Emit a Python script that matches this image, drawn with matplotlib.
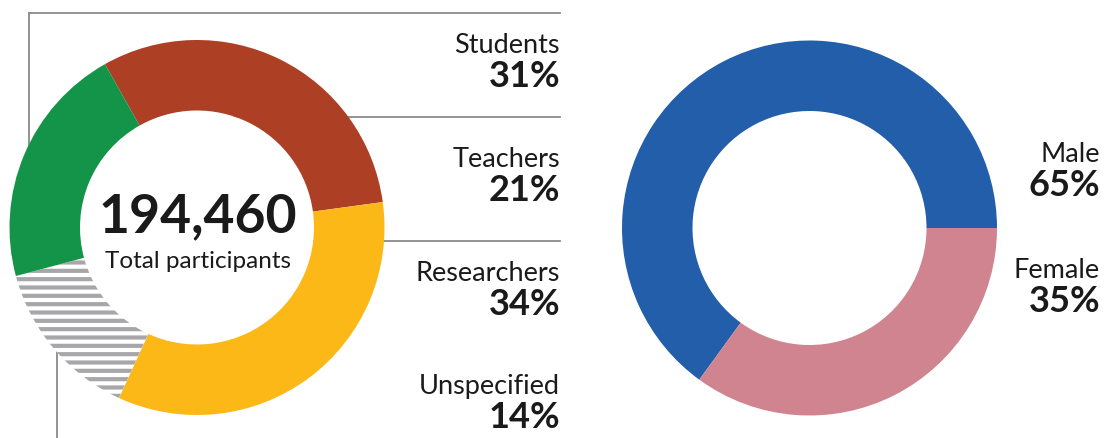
import matplotlib
matplotlib.use("Agg")
import matplotlib.pyplot as plt

# data
roles = ["Students", "Researchers", "Unspecified", "Teachers"]
role_share = [31, 34, 14, 21]
role_colors = ["#AD3F25", "#FBB817", "white", "#149449"]
total_participants = "194,460"

genders = ["Male", "Female"]
gender_share = [65, 35]
gender_colors = ["#225EAA", "#D0848F"]

W, H = 1104, 438
plt.rcParams["hatch.color"] = "#A7A7AA"
plt.rcParams["hatch.linewidth"] = 3.0
plt.rcParams["font.family"] = ["Lato", "DejaVu Sans"]

fig = plt.figure(figsize=(W / 100, H / 100), dpi=100)
ax = fig.add_axes([0, 0, 1, 1])


def py(y):
    # pixel row from top -> data y
    return H - y


R_OUT, R_IN = 187.5, 117
line_kw = dict(color="#8A8A8A", lw=1.3, zorder=0)

# leader lines (partly hidden behind the ring)
ax.plot([29, 29], [py(13), py(227)], **line_kw)
ax.plot([29, 560], [py(13), py(13)], **line_kw)
ax.plot([197, 560], [py(117), py(117)], **line_kw)
ax.plot([197, 560], [py(241), py(241)], **line_kw)
ax.plot([57, 57], [py(227), py(438)], **line_kw)

wedges, _ = ax.pie(role_share, colors=role_colors, startangle=119.4,
                   counterclock=False, center=(197, py(227.5)), radius=R_OUT,
                   wedgeprops=dict(width=R_OUT - R_IN, linewidth=0),
                   frame=True)
wedges[2].set_hatch("--")
wedges[2].set_edgecolor("#A7A7AA")
wedges[2].set_linewidth(0)
for w in wedges:
    w.set_zorder(2)
# white hole so the leader lines stop at the ring
ax.add_patch(plt.Circle((197, py(227.5)), R_IN, color="white", lw=0, zorder=1))

ax.pie(gender_share, colors=gender_colors, startangle=0,
       center=(809.5, py(228)), radius=R_OUT,
       wedgeprops=dict(width=R_OUT - R_IN, linewidth=0), frame=True)
ax.set_xlim(0, W)
ax.set_ylim(0, H)
ax.set_aspect("equal")
ax.axis("off")

txt = "#1A1A1A"
ax.text(198, py(232), total_participants, ha="center", va="baseline",
        fontsize=38.5, fontweight="bold", color=txt, zorder=3)
ax.text(198, py(268), "Total participants", ha="center", va="baseline",
        fontsize=17.5, fontweight="normal", color=txt, zorder=3)

label_order = ["Students", "Teachers", "Researchers", "Unspecified"]
name_base = [53, 167, 281, 394]
for name, yb in zip(label_order, name_base):
    pct = role_share[roles.index(name)]
    ax.text(560, py(yb), name, ha="right", va="baseline", fontsize=19.5,
            fontweight="normal", color=txt)
    ax.text(560, py(yb + 34), f"{pct}%", ha="right", va="baseline",
            fontsize=26, fontweight="bold", color=txt)

for name, pct, yb in zip(genders, gender_share, [162, 278]):
    ax.text(1100, py(yb), name, ha="right", va="baseline", fontsize=19.5,
            fontweight="normal", color=txt)
    ax.text(1100, py(yb + 34), f"{pct}%", ha="right", va="baseline",
            fontsize=26, fontweight="bold", color=txt)

fig.savefig("out.png", dpi=100, facecolor="white")
